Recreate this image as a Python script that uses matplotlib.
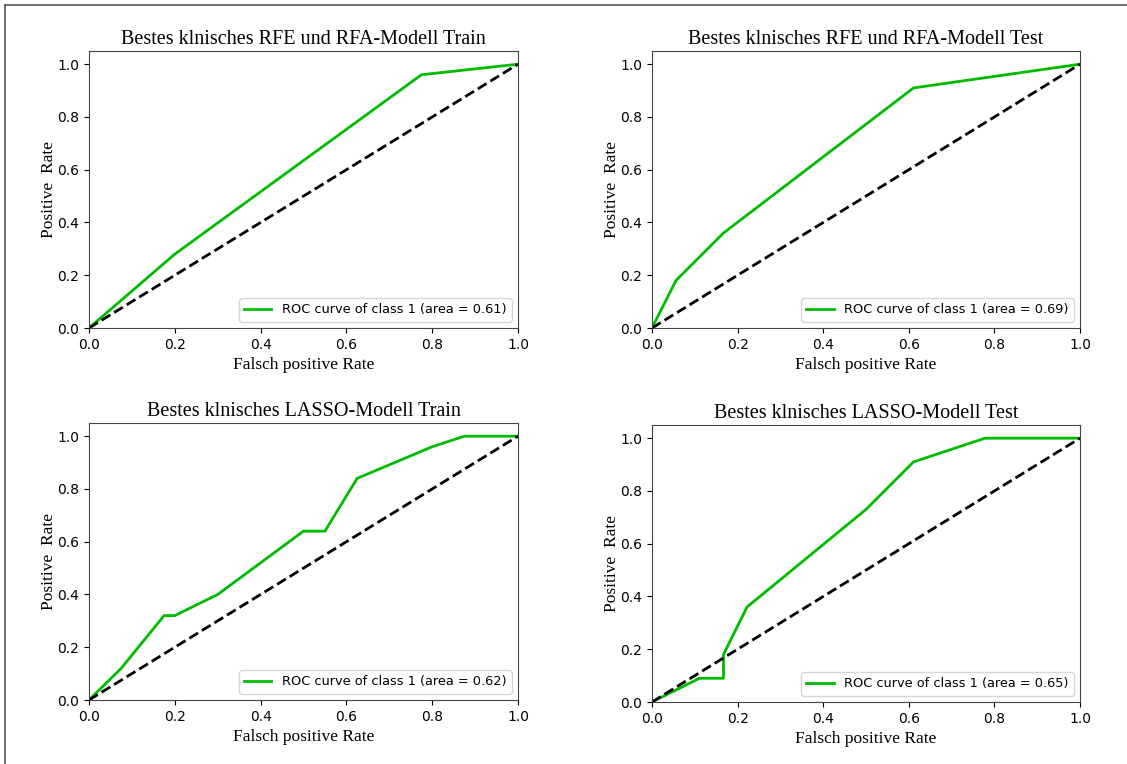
import matplotlib.pyplot as plt
from matplotlib.lines import Line2D

# ROC points for each model (false positive rate, true positive rate)
rfe_train_fpr = [0.0, 0.2, 0.775, 1.0]
rfe_train_tpr = [0.0, 0.28, 0.96, 1.0]

rfe_test_fpr = [0.0, 0.056, 0.167, 0.611, 1.0]
rfe_test_tpr = [0.0, 0.18, 0.36, 0.91, 1.0]

lasso_train_fpr = [0.0, 0.075, 0.175, 0.2, 0.3, 0.5, 0.55, 0.625, 0.8, 0.875, 1.0]
lasso_train_tpr = [0.0, 0.12, 0.32, 0.32, 0.40, 0.64, 0.64, 0.84, 0.96, 1.0, 1.0]

lasso_test_fpr = [0.0, 0.111, 0.167, 0.167, 0.222, 0.5, 0.611, 0.778, 1.0]
lasso_test_tpr = [0.0, 0.09, 0.09, 0.18, 0.36, 0.73, 0.91, 1.0, 1.0]

titles = ["Bestes klnisches RFE und RFA-Modell Train",
          "Bestes klnisches RFE und RFA-Modell Test",
          "Bestes klnisches LASSO-Modell Train",
          "Bestes klnisches LASSO-Modell Test"]
areas = [0.61, 0.69, 0.62, 0.65]

curves = [(rfe_train_fpr, rfe_train_tpr), (rfe_test_fpr, rfe_test_tpr),
          (lasso_train_fpr, lasso_train_tpr), (lasso_test_fpr, lasso_test_tpr)]

serif = "Liberation Serif"

fig = plt.figure(figsize=(11.27, 7.64), dpi=100)
# axes boxes in pixels: left, top, width, height
boxes = [(89, 51, 429, 277), (652, 51, 428, 277),
         (89, 423, 429, 277), (652, 425, 428, 277)]
W, H = 1127.0, 764.0

for i, ((fpr, tpr), title, area) in enumerate(zip(curves, titles, areas)):
    x0, y0, w, h = boxes[i]
    ax = fig.add_axes([x0 / W, 1 - (y0 + h) / H, w / W, h / H])
    ax.plot(fpr, tpr, color="#00bb00", lw=2,
            label="ROC curve of class 1 (area = %.2f)" % area)
    ax.plot([0, 1], [0, 1], "k--", lw=2)
    ax.set_xlim(0, 1)
    ax.set_ylim(0, 1.05)
    ax.set_title(title, fontfamily=serif, fontsize=14.5, pad=5)
    ax.set_xlabel("Falsch positive Rate", fontfamily=serif, fontsize=12.5, labelpad=4)
    ax.set_ylabel("Positive  Rate", fontfamily=serif, fontsize=12.5, labelpad=0)
    ax.tick_params(labelsize=10)
    for s in ax.spines.values():
        s.set_color("#444444")
    ax.legend(loc="lower right", fontsize=9.3, handlelength=2.1)

# frame lines on the left and top of the figure
fig.add_artist(Line2D([5 / W, 5 / W], [0, 1 - 5 / H], color="#555555", lw=1.2))
fig.add_artist(Line2D([5 / W, 1], [1 - 5 / H, 1 - 5 / H], color="#555555", lw=1.2))

fig.savefig("out.png", dpi=100)
